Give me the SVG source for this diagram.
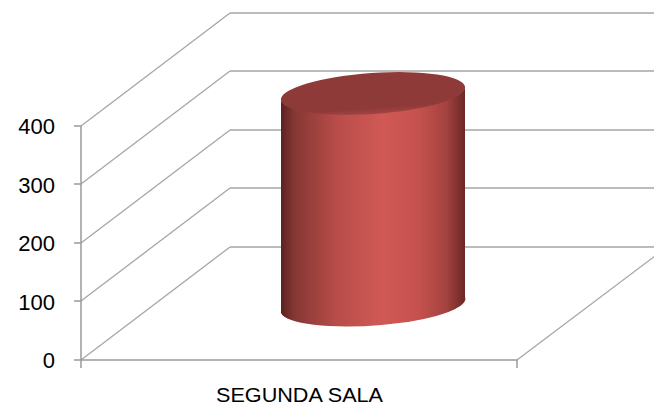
<svg xmlns="http://www.w3.org/2000/svg" width="654" height="406" viewBox="0 0 654 406">
<defs>
<style>
.grid{stroke:#a6a6a6;stroke-width:1.3;fill:none}
.axis{stroke:#9a9a9a;stroke-width:1.5;fill:none}
.lbl{font-family:"Liberation Sans",Arial,sans-serif;font-size:22px;fill:#000}
.cat{font-family:"Liberation Sans",Arial,sans-serif;font-size:20px;fill:#000}
</style>
<linearGradient id="body" gradientUnits="userSpaceOnUse" x1="281" y1="0" x2="465" y2="0">
<stop offset="0" stop-color="#5a2220"/>
<stop offset="0.07" stop-color="#853734"/>
<stop offset="0.3" stop-color="#b84c49"/>
<stop offset="0.55" stop-color="#d05955"/>
<stop offset="0.75" stop-color="#c5514e"/>
<stop offset="0.9" stop-color="#a3423f"/>
<stop offset="1" stop-color="#6a2725"/>
</linearGradient>
<linearGradient id="top" x1="0" y1="0" x2="0" y2="1">
<stop offset="0" stop-color="#8e3a38"/>
<stop offset="0.85" stop-color="#8e3a38"/>
<stop offset="1" stop-color="#a34441"/>
</linearGradient>
</defs>
<rect width="654" height="406" fill="#fff"/>
<g id="gridlines">
<line class="grid" x1="230" y1="13" x2="667" y2="13"/>
<line class="grid" x1="230" y1="71" x2="667" y2="71"/>
<line class="grid" x1="230" y1="130" x2="667" y2="130"/>
<line class="grid" x1="230" y1="188" x2="667" y2="188"/>
<line class="grid" x1="230" y1="247" x2="667" y2="247"/>
<line class="grid" x1="81" y1="126" x2="230" y2="13"/>
<line class="grid" x1="81" y1="184" x2="230" y2="71"/>
<line class="grid" x1="81" y1="243" x2="230" y2="130"/>
<line class="grid" x1="81" y1="301" x2="230" y2="188"/>
<line class="grid" x1="81" y1="360" x2="230" y2="247"/>
<line class="grid" x1="517" y1="360" x2="667" y2="247"/>
</g>
<g id="axes">
<line class="axis" x1="81" y1="126" x2="81" y2="368"/>
<line class="axis" x1="74" y1="126" x2="81" y2="126"/>
<line class="axis" x1="74" y1="184" x2="81" y2="184"/>
<line class="axis" x1="74" y1="243" x2="81" y2="243"/>
<line class="axis" x1="74" y1="301" x2="81" y2="301"/>
<line class="axis" x1="74" y1="360" x2="517" y2="360"/>
<line class="axis" x1="517" y1="360" x2="517" y2="368"/>
</g>
<g id="bar-segunda-sala">
<path d="M281,100 L281,313 A92.3,20.5 -4 0 0 465,297 L465,87 A92.3,20.5 -4 0 1 281,100 Z" fill="url(#body)"/>
<ellipse cx="373" cy="93.5" rx="92.3" ry="20.5" transform="rotate(-4 373 93.5)" fill="url(#top)"/>
</g>
<g id="labels">
<text class="lbl" x="55" y="134" text-anchor="end">400</text>
<text class="lbl" x="55" y="192.5" text-anchor="end">300</text>
<text class="lbl" x="55" y="251" text-anchor="end">200</text>
<text class="lbl" x="55" y="309.5" text-anchor="end">100</text>
<text class="lbl" x="55" y="368" text-anchor="end">0</text>
<text class="cat" x="216" y="401.5" textLength="167" lengthAdjust="spacingAndGlyphs">SEGUNDA SALA</text>
</g>
</svg>
